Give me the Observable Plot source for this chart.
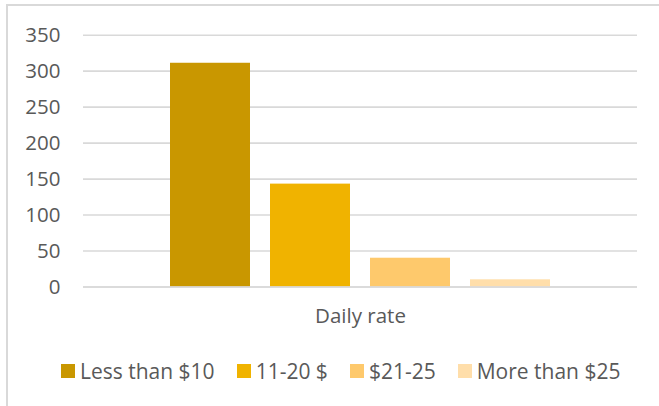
<!DOCTYPE html>
<html>
<head>
<meta charset="utf-8">
<script src="https://cdn.jsdelivr.net/npm/d3@7"></script>
<script src="https://cdn.jsdelivr.net/npm/@observablehq/plot@0.6"></script>
<style>
  html, body { margin: 0; padding: 0; background: #fff; }
  body { width: 659px; height: 406px; overflow: hidden; position: relative; font-family: "Open Sans", sans-serif; }
  #frame { position: absolute; left: 6px; top: 4px; right: -10px; bottom: -10px; border-top: 2px solid #d9d9d9; border-left: 2px solid #d9d9d9; pointer-events: none; }
  #chart { position: absolute; left: 0; top: 0; }
  #legend { position: absolute; left: 61px; top: 357px; display: flex; align-items: center; gap: 22px; font-size: 21px; color: #595959; white-space: nowrap; }
  #legend .item { display: flex; align-items: center; gap: 5px; }
  #legend .sw { width: 14px; height: 14px; display: inline-block; }
</style>
</head>
<body>
<div id="chart"></div>
<div id="legend"></div>
<div id="frame"></div>
<script>
const category = "Daily rate";
const series = ["Less than $10", "11-20 $", "$21-25", "More than $25"];
const values = [311, 143, 40, 10];
const colors = ["#C99700", "#F0B300", "#FEC96C", "#FFDEAA"];
const yTicks = [0, 50, 100, 150, 200, 250, 300, 350];

const data = series.map((s, i) => ({category, series: s, value: values[i]}));

const chart = Plot.plot({
  width: 659,
  height: 345,
  marginLeft: 83,
  marginRight: 22,
  marginTop: 34.7,
  marginBottom: 58.5,
  style: {fontFamily: "Open Sans, sans-serif", fontSize: "20.5px", color: "#595959", background: "transparent"},
  fx: {domain: [category], padding: 0, label: null, axis: "bottom", tickSize: 0, tickPadding: 21},
  x: {domain: series, paddingInner: 0.2, paddingOuter: 0.87, axis: null},
  y: {domain: [0, 350], ticks: yTicks, label: null, tickSize: 0, tickPadding: 23},
  color: {domain: series, range: colors},
  marks: [
    Plot.gridY(yTicks, {stroke: "#d9d9d9", strokeOpacity: 1, strokeWidth: 1.6}),
    Plot.barY(data, {fx: "category", x: "series", y: "value", fill: "series"}),
    Plot.ruleY([0], {stroke: "#d9d9d9", strokeWidth: 1.6})
  ]
});
document.getElementById("chart").appendChild(chart);

const legend = d3.select("#legend");
series.forEach((s, i) => {
  const item = legend.append("div").attr("class", "item");
  item.append("span").attr("class", "sw").style("background", colors[i]);
  item.append("span").text(s);
});
</script>
</body>
</html>
